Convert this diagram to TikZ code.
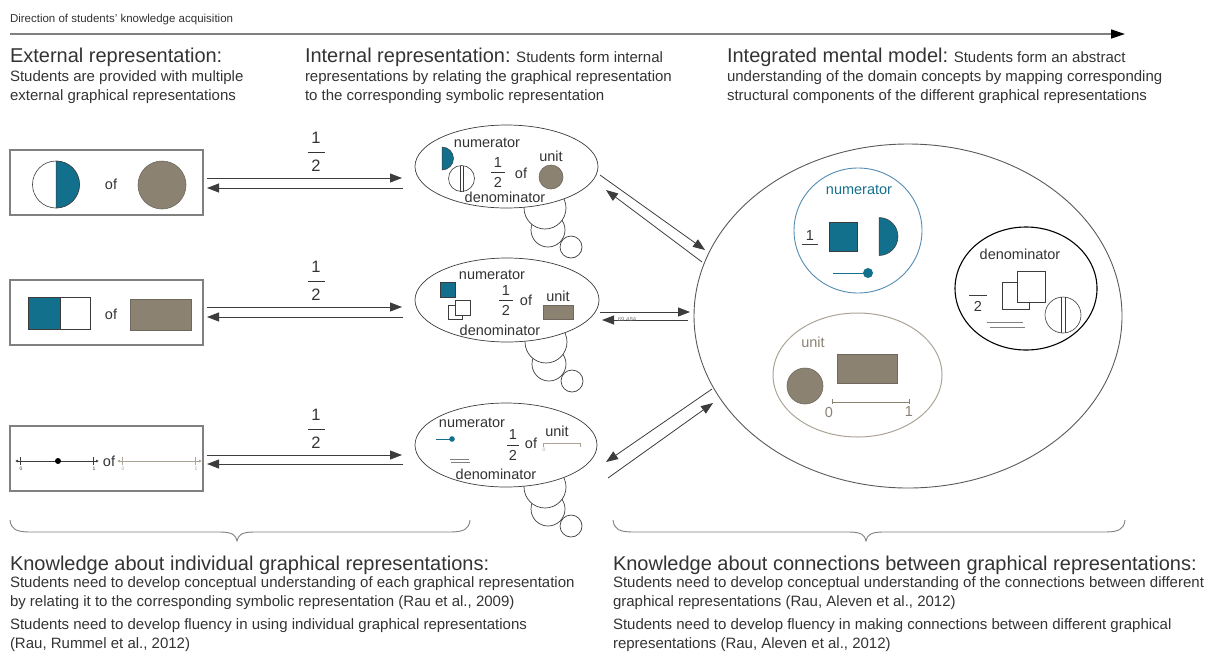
\documentclass[tikz,border=0pt]{standalone}
\usepackage{fontspec}
\setmainfont{Liberation Sans}
\usetikzlibrary{arrows.meta,shapes.geometric,calc}
\definecolor{PartClr}{RGB}{19,112,141}
\definecolor{NumLineClr}{RGB}{84,140,178}
\definecolor{UnitClr}{RGB}{139,130,114}
\definecolor{UnitEdgeClr}{RGB}{110,104,94}
\definecolor{UnitLineClr}{RGB}{172,163,151}
\definecolor{TextClr}{RGB}{51,51,51}
\definecolor{LineClr}{RGB}{60,60,60}
\definecolor{BoxClr}{RGB}{128,128,128}
\newcommand{\HeadFont}{\fontsize{20}{24}\selectfont}
\newcommand{\BodyFont}{\fontsize{15}{19}\selectfont}
\newcommand{\LabelFont}{\fontsize{14.5}{17}\selectfont}
\newcommand{\FracFont}{\fontsize{16.5}{18}\selectfont}
\newcommand{\TinyFont}{\fontsize{5}{6}\selectfont}
% name, x, bar y, gap, half bar, font
\newcommand{\HalfFrac}[6]{%
  \node[font=#6] (#1n) at (#2,#3+#4) {1};
  \node[font=#6] (#1d) at (#2,#3-#4) {2};
  \draw[line width=0.6pt,TextClr] (#2-#5,#3) -- (#2+#5,#3);}
% thought bubble tail below the ellipse bottom (x,y)
\newcommand{\ThoughtTail}[2]{%
  \draw[puff] (#1+65,#2-39) circle[radius=11];
  \draw[puff] (#1+42,#2-22) circle[radius=17];
  \draw[puff] (#1+39,#2) circle[radius=21];}

\begin{document}
\begin{tikzpicture}[x=1pt,y=1pt,
  every node/.style={inner sep=0pt,outer sep=0pt,text=TextClr},
  txt/.style={anchor=base west,font=\BodyFont},
  head/.style={anchor=base west,font=\HeadFont},
  lbl/.style={font=\LabelFont},
  tinylbl/.style={font=\TinyFont},
  extbox/.style={draw=BoxClr,line width=1.1pt,minimum width=193pt,minimum height=65pt},
  thought/.style={ellipse,draw=LineClr,line width=0.7pt,fill=white},
  puff/.style={draw=LineClr,line width=0.7pt,fill=white},
  link/.style={draw=LineClr,line width=0.8pt,-{Triangle[length=12pt,width=9pt]}},
  part/.style={fill=PartClr,draw=LineClr,line width=0.5pt},
  whole/.style={fill=UnitClr,draw=UnitEdgeClr,line width=0.6pt},
  outline/.style={draw=LineClr,line width=0.6pt,fill=white},
  brace/.style={draw=gray,line width=0.9pt}]
\useasboundingbox (0,0) rectangle (1217,-654);

\node[anchor=base west,font=\fontsize{11.5}{14}\selectfont] (dir) at (10,-22) {Direction of students' knowledge acquisition};
\coordinate (dirend) at (1125,-34);
\draw[draw=gray,line width=1.3pt,-{Triangle[length=14pt,width=9pt,color=black]}] ($(dir.base west)+(0,-12)$) -- (dirend);

\node[head] (ext) at (10,-62) {External representation:};
\node[txt] (ext1) at (10,-81) {Students are provided with multiple};
\node[txt] (ext2) at (10,-100) {external graphical representations};
\node[txt] (int) at (305,-62) {{\HeadFont Internal representation:} Students form internal};
\node[txt] (int1t) at (305,-81) {representations by relating the graphical representation};
\node[txt] (int2t) at (305,-100) {to the corresponding symbolic representation};
\node[txt] (imm) at (727,-62) {{\HeadFont Integrated mental model:} Students form an abstract};
\node[txt] (imm1) at (727,-81) {understanding of the domain concepts by mapping corresponding};
\node[txt] (imm2) at (727,-100) {structural components of the different graphical representations};

% external representations
\node[extbox] (ext1box) at (106.5,-182.5) {};
\draw[outline] (56,-184.5) circle[radius=23.5];
\filldraw[part] (56,-161) arc[start angle=90,end angle=-90,radius=23.5] -- cycle;
\node[lbl] (of1) at (111,-184) {of};
\filldraw[whole] (162,-185) circle[radius=24];

\node[extbox] (ext2box) at (106.5,-312.5) {};
\filldraw[part] (28,-297) rectangle (60,-329);
\draw[outline] (60,-297) rectangle (90,-329);
\node[lbl] (of2) at (111,-314) {of};
\filldraw[whole] (130,-299) rectangle (191,-330);

\node[extbox] (ext3box) at (106.5,-458.5) {};
\draw[LineClr,line width=0.7pt,{Latex[length=3pt,width=3pt]}-{Latex[length=3pt,width=3pt]}] (15,-461) -- (99,-461);
\draw[LineClr,line width=0.7pt] (20,-457) -- (20,-465) (93,-457) -- (93,-465);
\fill[black] (58,-461) circle[radius=3];
\node[tinylbl] (nl0) at (21,-469) {0};
\node[tinylbl] (nl1) at (94,-469) {1};
\node[lbl] (of3) at (109,-461) {of};
\draw[UnitLineClr,line width=0.7pt,{Latex[length=3pt,width=3pt]}-{Latex[length=3pt,width=3pt]}] (117,-461) -- (202,-461);
\draw[UnitLineClr,line width=0.7pt] (122,-457) -- (122,-465) (195,-457) -- (195,-465);
\node[tinylbl,text=UnitLineClr] (ul0) at (123,-469) {0};
\node[tinylbl,text=UnitLineClr] (ul1) at (196,-469) {1};

\HalfFrac{fa}{316}{-152}{14}{8.5}{\FracFont}
\HalfFrac{fb}{316}{-281}{14}{8.5}{\FracFont}
\HalfFrac{fc}{316}{-429}{14}{8.5}{\FracFont}

% internal representations
\ThoughtTail{506}{-208}
\node[thought,minimum width=183pt,minimum height=83pt] (int1) at (506.5,-166.5) {};
\filldraw[part] (442,-147) arc[start angle=90,end angle=-90,radius=11.5] -- cycle;
\node[lbl] (num1) at (487,-143) {numerator};
\draw[outline] (461.5,-178.5) circle[radius=13];
\draw[LineClr,line width=0.6pt] (460,-165.5) -- (460,-191.5) (463.5,-165.5) -- (463.5,-191.5);
\HalfFrac{f1}{498}{-172.5}{10}{7}{\LabelFont}
\node[lbl] (of4) at (521,-173) {of};
\node[lbl] (unit1) at (551,-156) {unit};
\filldraw[whole] (551,-177) circle[radius=12];
\node[lbl] (den1) at (505,-197) {denominator};

\ThoughtTail{507}{-342}
\node[thought,minimum width=184pt,minimum height=84pt] (int2) at (507,-300) {};
\filldraw[part] (440,-282) rectangle (455,-297);
\draw[outline] (448,-305) rectangle (462,-319);
\draw[outline] (455,-300) rectangle (470,-315);
\node[lbl] (num2) at (492,-275) {numerator};
\HalfFrac{f2}{506}{-300.5}{10}{7}{\LabelFont}
\node[lbl] (of5) at (526,-300) {of};
\node[lbl] (unit2) at (558,-296) {unit};
\filldraw[whole] (543,-305) rectangle (573,-319);
\node[lbl] (den2) at (500,-330) {denominator};

\ThoughtTail{506}{-487}
\node[thought,minimum width=182pt,minimum height=84pt] (int3) at (506,-445) {};
\node[lbl] (num3) at (472,-423) {numerator};
\draw[PartClr,line width=0.8pt] (436,-439) -- (452,-439);
\fill[PartClr] (452,-439) circle[radius=2.8];
\draw[gray,line width=0.7pt] (450,-459) -- (469,-459) (451,-462) -- (470,-462);
\node[lbl] (den3) at (496,-474) {denominator};
\HalfFrac{f3}{513}{-445}{10}{6}{\LabelFont}
\node[lbl] (of6) at (531,-443) {of};
\node[lbl] (unit3) at (557,-431) {unit};
\draw[UnitLineClr,line width=0.8pt] (543,-447) -- (543,-443) -- (580,-443) -- (580,-447);
\node[tinylbl,text=UnitLineClr] (bl0) at (544,-450) {0};

% integrated mental model
\node[ellipse,draw=LineClr!85,line width=0.9pt,minimum width=428pt,minimum height=344pt] (mm) at (908,-316) {};

\node[ellipse,draw=NumLineClr,line width=0.9pt,minimum width=128pt,minimum height=125pt] (numc) at (858,-230.5) {};
\node[lbl,text=PartClr] (numt) at (859,-190) {numerator};
\node[lbl] (n1) at (810,-236) {1};
\draw[LineClr,line width=0.6pt] (802,-244) -- (818,-244);
\filldraw[part] (829,-222) rectangle (857,-251);
\filldraw[part] (879,-217.5) arc[start angle=90,end angle=-90,radius=19] -- cycle;
\draw[PartClr,line width=0.8pt] (833,-273) -- (868,-273);
\fill[PartClr] (868,-273) circle[radius=5];

\node[ellipse,draw=black,line width=1.1pt,minimum width=142pt,minimum height=123pt] (denc) at (1026,-288.5) {};
\node[lbl] (dent) at (1020,-254) {denominator};
\draw[LineClr,line width=0.6pt] (969,-295) -- (987,-295);
\node[lbl] (d2) at (978,-306) {2};
\draw[outline] (1002,-282) rectangle (1029,-309);
\draw[outline] (1017,-271) rectangle (1045,-302);
\draw[gray,line width=0.8pt] (987,-322) -- (1023,-322) (990,-327) -- (1025,-327);
\draw[outline] (1063,-315) circle[radius=18];
\draw[LineClr,line width=0.6pt] (1061,-297) -- (1061,-333) (1065.5,-297) -- (1065.5,-333);

\node[ellipse,draw=UnitLineClr,line width=1pt,minimum width=169pt,minimum height=124pt] (unitc) at (857.5,-375) {};
\node[lbl,text=UnitClr] (unitt) at (813,-342) {unit};
\filldraw[whole] (805,-386) circle[radius=18];
\filldraw[whole] (837,-354) rectangle (897,-383);
\draw[UnitClr,line width=0.7pt] (832,-399) -- (832,-404) (832,-402) -- (909,-402) (909,-399) -- (909,-404);
\node[lbl,text=UnitClr] (u0) at (829,-412) {0};
\node[lbl,text=UnitClr] (u1) at (909,-412) {1};

% connections
\draw[link] ($(ext1box.east)+(4,4.5)$) -- ($(int1.west)+(-13,-11.5)$);
\draw[link] ($(int1.west)+(-12,-21.5)$) -- ($(ext1box.east)+(4,-5.5)$);
\draw[link] ($(ext2box.east)+(4,5.5)$) -- ($(int2.west)+(-13,-7)$);
\draw[link] ($(int2.west)+(-12,-17)$) -- ($(ext2box.east)+(4,-4.5)$);
\draw[link] ($(ext3box.east)+(4,3.5)$) -- ($(int3.west)+(-13,-10)$);
\draw[link] ($(int3.west)+(-12,-19)$) -- ($(ext3box.east)+(4,-5.5)$);

\draw[link] ($(int1.east)+(2,-8.5)$) -- ($(mm.west)+(11,66)$);
\draw[link] ($(mm.west)+(8,54)$) -- ($(int1.east)+(8,-23.5)$);
\draw[link] ($(int2.east)+(1,-12)$) -- ($(mm.west)+(-4,4)$);
\draw[link] ($(mm.west)+(-6,-4)$) -- ($(int2.east)+(3,-20)$);
\node[font=\fontsize{6}{7}\selectfont,text=gray] (len) at (627,-319.5) {69.484};
\draw[link] ($(mm.west)+(18,-73)$) -- ($(int3.east)+(9,-17)$);
\draw[link] ($(int3.east)+(11,-33)$) -- ($(mm.west)+(19,-87)$);

% braces
\draw[brace] (10,-520) .. controls (11,-529) and (16,-532) .. (30,-532) -- (220,-532) .. controls (232,-532) and (236,-535) .. (237,-541) .. controls (238,-535) and (242,-532) .. (254,-532) -- (450,-532) .. controls (464,-532) and (469,-529) .. (470,-520);
\draw[brace] (613,-520) .. controls (614,-529) and (619,-532) .. (633,-532) -- (849,-532) .. controls (861,-532) and (865,-535) .. (866,-541) .. controls (867,-535) and (871,-532) .. (883,-532) -- (1105,-532) .. controls (1119,-532) and (1124,-529) .. (1125,-520);

\node[head] (kin) at (10,-570) {Knowledge about individual graphical representations:};
\node[txt] (kin1) at (10,-587) {Students need to develop conceptual understanding of each graphical representation};
\node[txt] (kin2) at (10,-606) {by relating it to the corresponding symbolic representation (Rau et al., 2009)};
\node[txt] (kin3) at (10,-629) {Students need to develop fluency in using individual graphical representations};
\node[txt] (kin4) at (10,-648) {(Rau, Rummel et al., 2012)};
\node[head] (kcn) at (613,-570) {Knowledge about connections between graphical representations:};
\node[txt] (kcn1) at (613,-587) {Students need to develop conceptual understanding of the connections between different};
\node[txt] (kcn2) at (613,-606) {graphical representations (Rau, Aleven et al., 2012)};
\node[txt] (kcn3) at (613,-629) {Students need to develop fluency in making connections between different graphical};
\node[txt] (kcn4) at (613,-648) {representations (Rau, Aleven et al., 2012)};
\end{tikzpicture}
\end{document}
